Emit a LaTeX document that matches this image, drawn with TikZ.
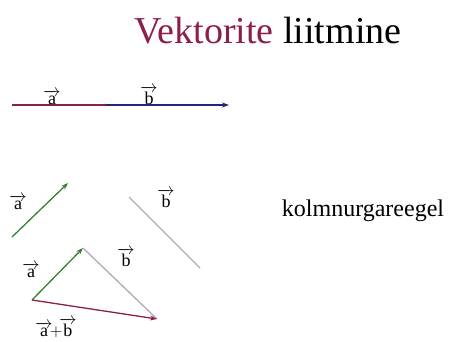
\documentclass[tikz,border=0pt]{standalone}
\usepackage{fontspec}
\setmainfont{Liberation Serif}
\usetikzlibrary{arrows.meta}
\definecolor{vekred}{RGB}{140,30,75}
\definecolor{vekblue}{RGB}{30,40,120}
\definecolor{vekgreen}{RGB}{50,130,50}
\definecolor{vekgrey}{RGB}{175,172,185}
\tikzset{
  vec/.style={line width=1.3pt, -{Stealth[length=7pt,width=5pt]}},
  veclabel/.style={inner sep=0pt, font=\fontsize{18}{19}\selectfont}
}
\newcommand{\vlab}[1]{$\overrightarrow{\mathrm{#1}}$}
\begin{document}
\begin{tikzpicture}[x=1pt,y=-1pt]
    \useasboundingbox (0,0) rectangle (451,341);

    % Title
    \node (title) at (268,31) {\fontsize{38}{40}\selectfont\textcolor{vekred}{Vektorite} liitmine};

    % a and b one after another
    \coordinate (a0) at (12,105);
    \coordinate (a1) at (105,105);
    \coordinate (b1) at (229,105);
    \draw [line width=1.3pt, vekred] (a0) -- (a1);
    \draw [vec, vekblue] (a1) -- (b1);
    \fill [vekred] (a1) circle [radius=1.4];
    \node [veclabel, anchor=base] (la1) at (52,104) {\vlab{a}};
    \node [veclabel, anchor=base] (lb1) at (149,104) {\vlab{b}};

    % a and b separately
    \coordinate (a2) at (12,237);
    \coordinate (a3) at (68,183);
    \coordinate (b2) at (129,197);
    \coordinate (b3) at (200,268);
    \draw [vec, vekgreen] (a2) -- (a3);
    \draw [line width=1.3pt, vekgrey] (b2) -- (b3);
    \node [veclabel, anchor=base] (la2) at (18,209) {\vlab{a}};
    \node [veclabel, anchor=base] (lb2) at (166,207) {\vlab{b}};

    \node (rule) at (363,211) {\fontsize{24}{26}\selectfont kolmnurgareegel};

    % Triangle
    \coordinate (t0) at (32,300);
    \coordinate (t1) at (83,248);
    \coordinate (t2) at (157,319);
    \draw [vec, vekgreen] (t0) -- (t1);
    \draw [line width=1.3pt, vekgrey] (t1) -- (t2);
    \draw [vec, vekred] (t0) -- (t2);
    \node [veclabel, anchor=base] (la3) at (31,277) {\vlab{a}};
    \node [veclabel, anchor=base] (lb3) at (126,266) {\vlab{b}};
    \node [veclabel, anchor=base] (lab) at (56,336) {\vlab{a}$\!+\!$\vlab{b}};
\end{tikzpicture}
\end{document}
